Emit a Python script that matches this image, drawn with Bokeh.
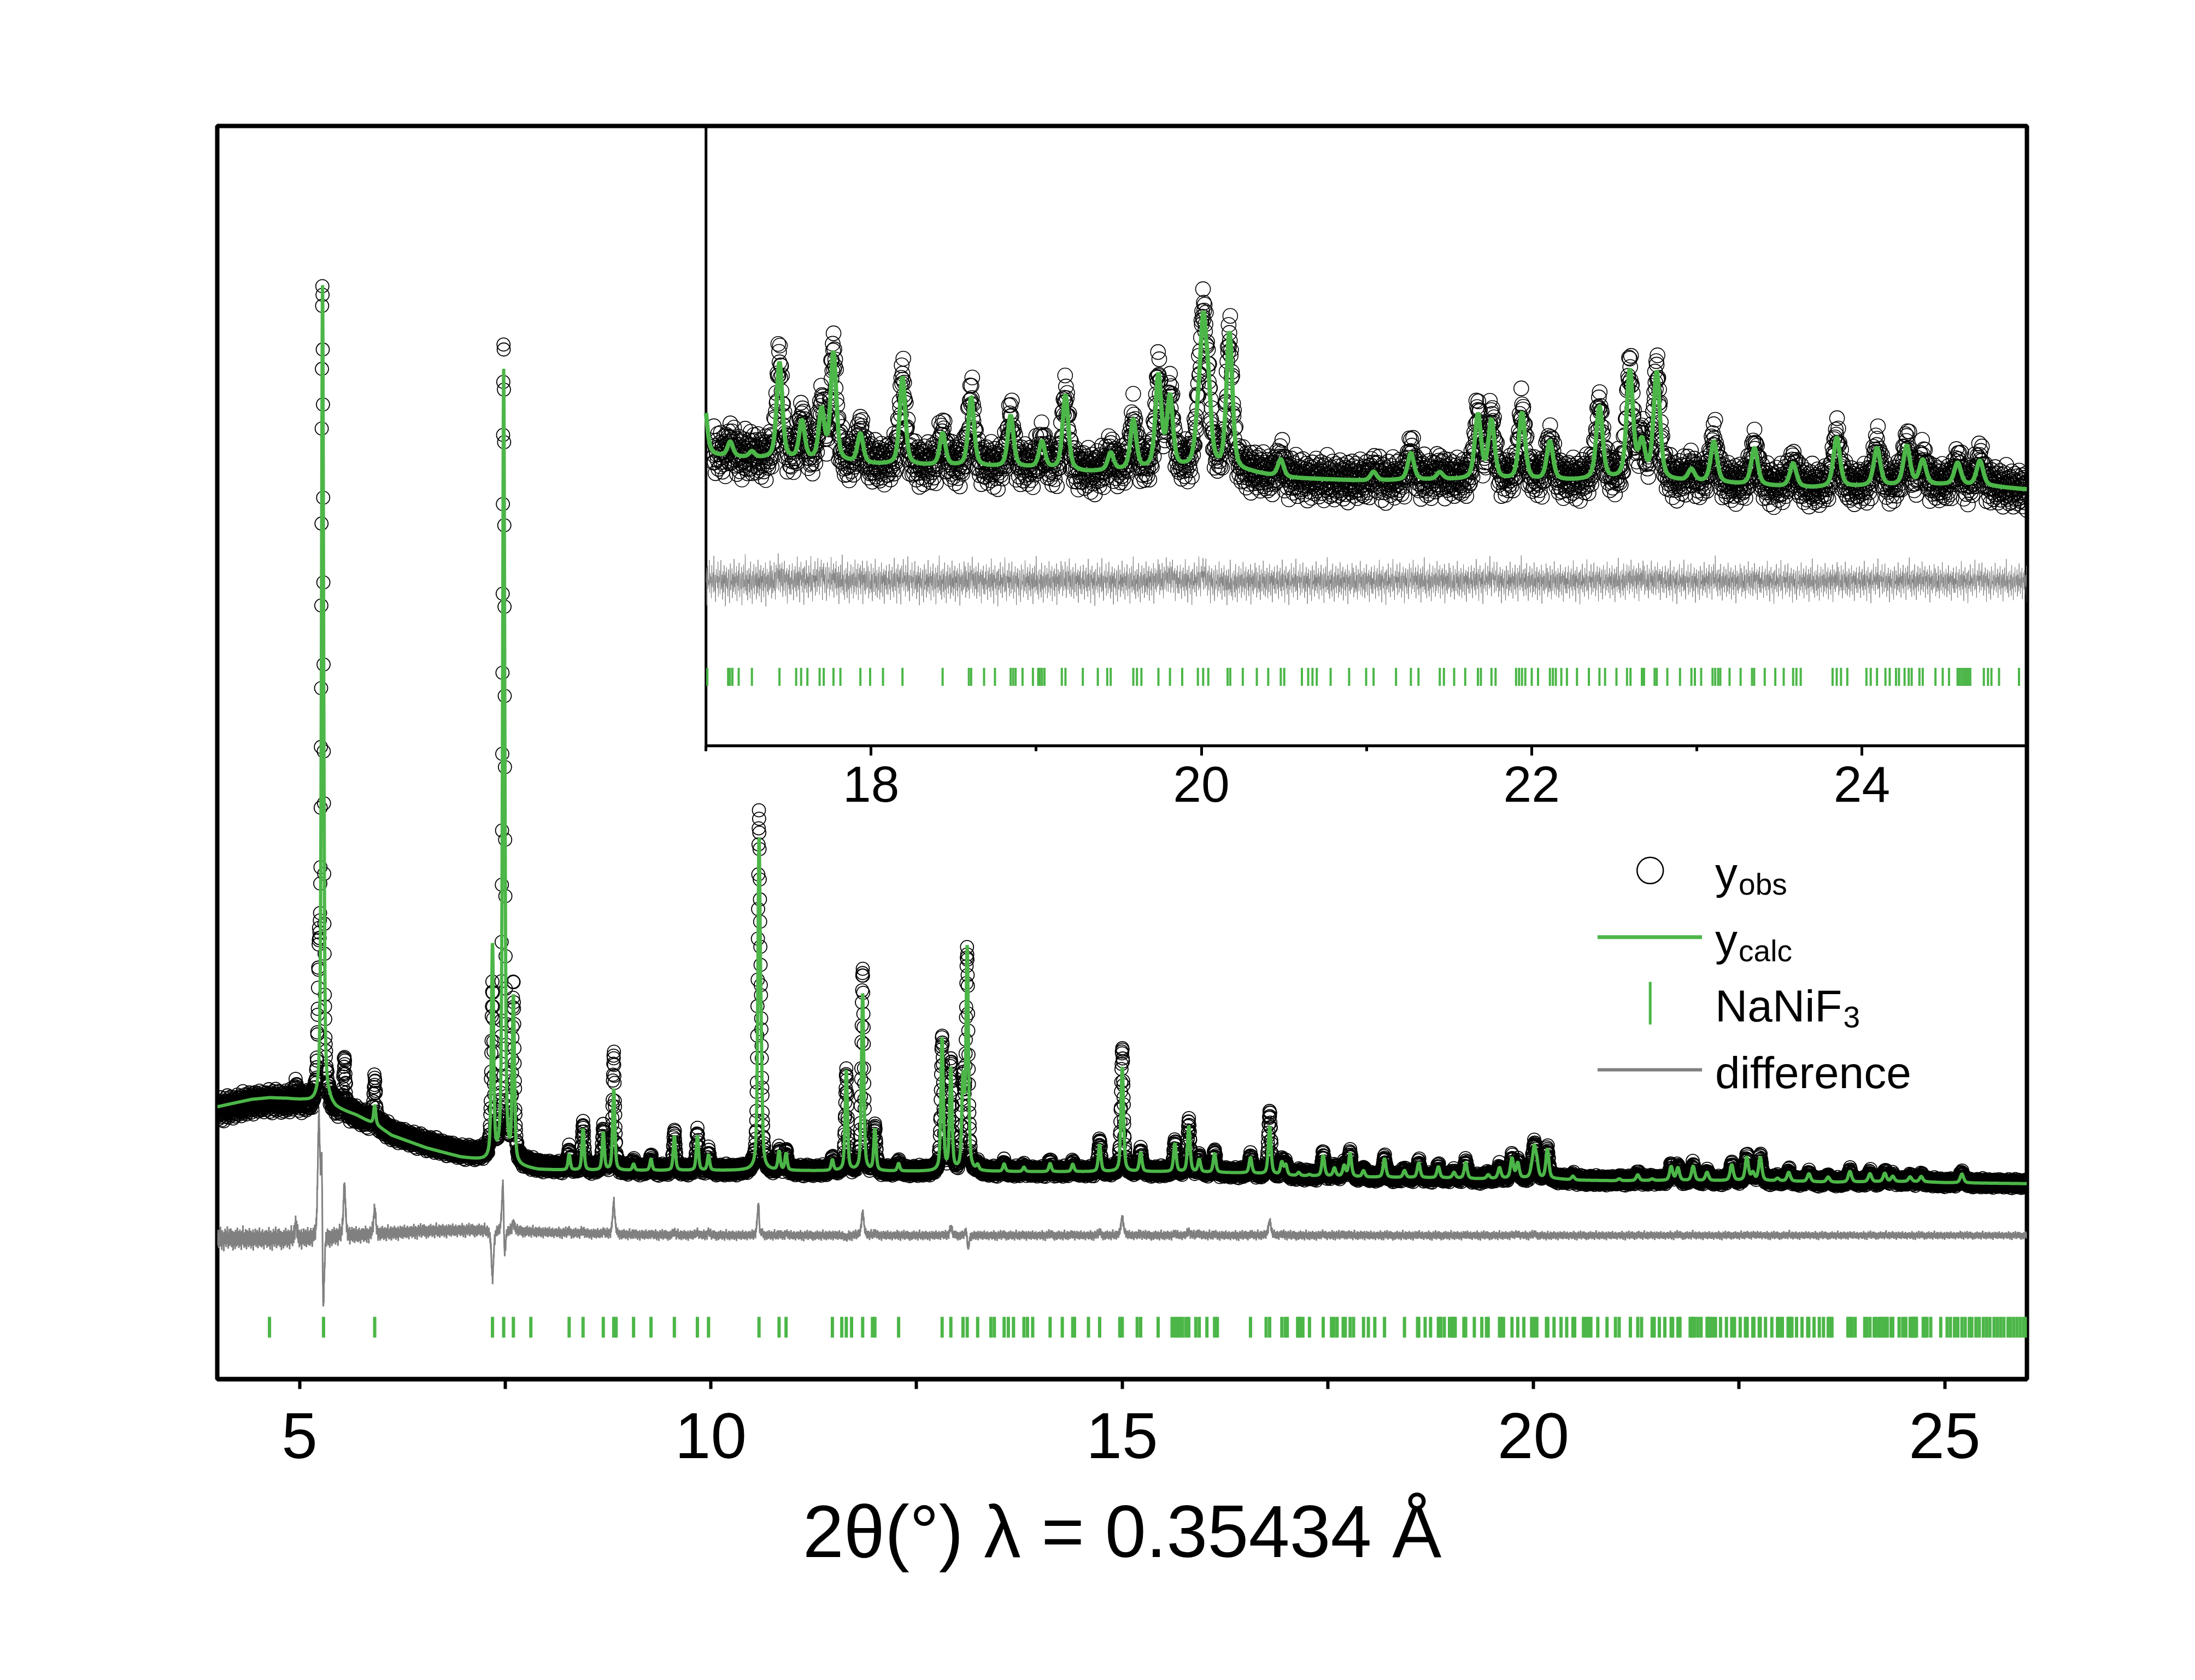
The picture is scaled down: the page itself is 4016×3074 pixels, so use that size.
import numpy as np
from bokeh.plotting import figure
from bokeh.models import Range1d, LinearAxis, FixedTicker, BoxAnnotation, Label
from bokeh.models import ColumnDataSource
from bokeh.embed import file_html
from bokeh.resources import INLINE

# ---------------------------------------------------------------- data
# NaNiF3 reflection positions (2theta, deg) read from the tick rows
refl_pos = [
    4.635, 5.292, 5.914, 7.346, 7.482, 7.600, 7.812, 8.278, 8.447, 8.693,
    8.820, 8.849, 9.061, 9.273, 9.557, 9.837, 9.972, 10.586, 10.830, 10.915,
    11.478, 11.592, 11.647, 11.711, 11.846, 11.965, 11.995, 12.283, 12.812, 12.918,
    13.066, 13.117, 13.244, 13.405, 13.447, 13.566, 13.617, 13.680, 13.807, 13.850,
    13.913, 14.125, 14.273, 14.400, 14.422, 14.591, 14.727, 14.972, 15.002, 15.184,
    15.226, 15.438, 15.608, 15.642, 15.671, 15.701, 15.735, 15.777, 15.811, 15.896,
    15.938, 16.031, 16.124, 16.158, 16.561, 16.751, 16.794, 16.942, 16.984, 17.008,
    17.134, 17.145, 17.160, 17.198, 17.278, 17.445, 17.546, 17.576, 17.614, 17.688,
    17.713, 17.772, 17.814, 17.935, 17.994, 18.072, 18.190, 18.433, 18.592, 18.606,
    18.684, 18.750, 18.845, 18.860, 18.875, 18.917, 18.980, 19.012, 19.022, 19.035,
    19.050, 19.155, 19.177, 19.282, 19.373, 19.430, 19.451, 19.588, 19.610, 19.637,
    19.740, 19.810, 19.884, 19.979, 20.011, 20.042, 20.159, 20.175, 20.251, 20.336,
    20.405, 20.481, 20.502, 20.609, 20.647, 20.673, 20.699, 20.783, 20.895, 20.998,
    21.043, 21.179, 21.269, 21.315, 21.444, 21.469, 21.531, 21.598, 21.675, 21.693,
    21.757, 21.782, 21.906, 21.924, 21.942, 21.962, 22.001, 22.039, 22.111, 22.129,
    22.147, 22.180, 22.214, 22.275, 22.347, 22.411, 22.445, 22.514, 22.578, 22.599,
    22.668, 22.681, 22.745, 22.758, 22.822, 22.899, 22.968, 22.989, 23.027, 23.096,
    23.112, 23.130, 23.143, 23.199, 23.266, 23.335, 23.348, 23.412, 23.476, 23.527,
    23.584, 23.604, 23.630, 23.823, 23.848, 23.874, 23.912, 24.028, 24.054, 24.092,
    24.143, 24.169, 24.207, 24.225, 24.259, 24.284, 24.302, 24.349, 24.369, 24.446,
    24.490, 24.528, 24.580, 24.592, 24.605, 24.618, 24.631, 24.644, 24.657, 24.739,
    24.764, 24.785, 24.831, 24.952, 25.030, 25.070, 25.120, 25.160, 25.210, 25.250,
    25.300, 25.330, 25.380, 25.420, 25.470, 25.510, 25.550, 25.600, 25.640, 25.680,
    25.720, 25.770, 25.800, 25.840, 25.880, 25.920, 25.960, 25.990,
]

# visible Bragg peaks: position, calculated and observed height above background
peak_pos = [
    5.280, 5.914, 7.346, 7.482, 7.600, 8.278, 8.447, 8.693, 8.820, 9.061,
    9.273, 9.557, 9.837, 9.972, 10.586, 10.612, 10.830, 10.915, 11.478, 11.647,
    11.846, 11.995, 12.283, 12.812, 12.918, 13.066, 13.117, 13.244, 13.566, 13.807,
    14.125, 14.400, 14.727, 15.002, 15.226, 15.642, 15.811, 15.938, 16.124, 16.561,
    16.794, 16.942, 16.990, 17.147, 17.278, 17.445, 17.581, 17.700, 17.772, 17.935,
    18.190, 18.433, 18.606, 18.845, 19.035, 19.177, 19.451, 19.588, 19.740, 19.810,
    19.979, 20.011, 20.042, 20.170, 20.481, 21.043, 21.269, 21.444, 21.675, 21.757,
    21.942, 22.111, 22.411, 22.595, 22.668, 22.758, 22.968, 23.104, 23.350, 23.584,
    23.848, 24.092, 24.272, 24.369, 24.580, 24.715, 25.210,
]
peak_calc = [
    6530, 150, 1710, 6330, 1310, 125, 330, 300, 650, 50,
    90, 275, 275, 125, 2500, 650, 150, 135, 85, 800,
    1415, 330, 60, 1055, 810, 700, 1765, 40, 60, 35,
    65, 60, 215, 835, 150, 225, 365, 100, 150, 125,
    380, 100, 80, 25, 10, 165, 65, 85, 185, 50,
    150, 55, 118, 88, 45, 128, 30, 85, 158, 120,
    60, 220, 110, 235, 30, 15, 46, 12, 110, 100,
    115, 66, 125, 185, 60, 184, 20, 70, 63, 40,
    85, 65, 67, 42, 38, 43, 70,
]
peak_obs = [
    6500, 350, 1320, 6480, 1380, 140, 350, 320, 905, 60,
    100, 300, 300, 150, 2680, 680, 160, 150, 90, 780,
    1605, 350, 65, 1060, 870, 700, 1720, 45, 65, 40,
    75, 70, 240, 980, 165, 240, 400, 120, 160, 135,
    490, 110, 85, 25, 10, 175, 70, 95, 190, 55,
    155, 55, 123, 88, 45, 133, 30, 85, 163, 130,
    60, 230, 110, 230, 30, 15, 50, 15, 112, 106,
    119, 66, 128, 190, 65, 188, 20, 75, 66, 40,
    88, 68, 70, 45, 38, 46, 75,
]
# small position offsets of some observed peaks
shift_pos = [5.280, 7.482, 10.586, 13.117]
shift_val = [-0.002, -0.001, -0.001, -0.001]

# peaks seen only in the observed pattern
extra_pos = [4.955, 5.235, 5.546]
extra_obs = [120, 950, 410]

# background knots (2theta, intensity)
bg_x = [4.00, 4.21, 4.42, 4.64, 4.85, 5.06, 5.20, 5.36, 5.44, 5.69,
        5.95, 6.12, 6.54, 6.96, 7.26, 7.69, 7.90, 8.50, 10.40, 12.50,
        14.00, 15.50, 16.50, 17.05, 17.60, 18.00, 18.50, 19.00, 19.30, 19.60,
        19.90, 20.30, 20.50, 21.00, 21.50, 22.00, 22.50, 22.90, 23.20, 23.50,
        23.70, 24.00, 24.50, 24.80, 25.00, 26.00]
bg_y = [2173, 2203, 2232, 2245, 2238, 2222, 2200, 2200, 2160, 2105,
        2020, 1945, 1845, 1770, 1740, 1690, 1670, 1665, 1665, 1658,
        1655, 1655, 1645, 1624, 1618, 1611, 1608, 1605, 1598, 1601,
        1603, 1597, 1588, 1583, 1585, 1583, 1584, 1582, 1578, 1573,
        1571, 1573, 1576, 1573, 1568, 1560]

# systematic observed-minus-calculated offset of the background
off_x = [4.0, 5.2, 5.6, 6.5, 7.3, 8.0, 9.0, 10.5, 26.0]
off_y = [-25, -25, -5, 35, 45, 25, 5, 0, 0]

# counting noise level
sig_x = [4.0, 5.2, 6.0, 7.3, 8.0, 10.5, 13.0, 17.0, 20.0, 26.0]
sig_y = [48, 45, 33, 28, 24, 22, 21, 21, 19, 17]

# normalised residual sequence (typical scatter of the difference curve)
resid_z = [
    0.31, -1.12, 0.84, -0.25, 1.47, -0.68, 0.12, -1.58, 0.93, 0.41,
    -0.52, 1.21, -0.87, 0.05, 0.63, -1.34, 1.98, -0.44, 0.72, -0.81,
    0.18, 1.03, -1.91, 0.55, -0.09, 1.38, -0.61, 0.27, -1.17, 0.79,
    -0.33, 0.91, -2.14, 0.46, 1.09, -0.73, 0.02, -0.39, 1.66, -1.01,
    0.58, -0.21, 0.34, -1.42, 1.27, -0.48, 0.11, 0.69, -0.94, 2.06,
    -0.29, -0.83, 0.51, -1.69, 0.22, 0.97, -0.13, 0.43, -0.57, 1.59,
    -1.26, 0.37, -0.06, 0.88, -1.03, 0.15, 1.72, -0.66, -0.31, 0.54,
    -1.48, 0.81, 0.08, -0.92, 1.31, -0.17, 0.49, -2.03, 0.76, -0.42,
    1.14, -0.59, 0.26, -1.22, 0.64, 0.99, -0.37, -1.77, 0.33, 1.46,
    -0.71, 0.04, -0.26, 1.05, -1.36, 0.61, 0.19, -0.85, 1.83, -0.47,
    0.39, -1.08, 0.71, -0.14, 1.24, -1.61, 0.47, -0.35, 0.86, -0.78,
    1.52, -0.23, -1.29, 0.66, 0.09, -0.64, 1.18, -1.95, 0.28, 0.74,
    -0.51, 1.36, -0.98, 0.13, -0.43, 2.21, -0.76, 0.52, -1.13, 0.35,
    0.92, -1.55, 0.17, -0.18, 1.07, -0.88, 0.62, -1.39, 1.62, -0.27,
    -0.69, 0.45, -1.84, 0.83, 0.23, -0.54, 1.41, -1.06, 0.07, 0.57,
    -0.36, 1.19, -1.47, 0.68, -0.02, -0.97, 1.77, -0.45, 0.29, -1.21,
    0.94, -0.62, 0.16, 1.33, -1.73, 0.42, -0.11, 0.87, -0.79, 1.11,
    -1.31, 0.24, 0.65, -0.49, 1.55, -2.07, 0.38, -0.24, 1.02, -0.86,
    0.53, -1.15, 0.78, 0.14, -0.72, 1.69, -0.55, -0.38, 1.26, -1.44,
    0.32, 0.85, -1.02, 0.06, -0.63, 1.48, -0.91, 0.59, -1.66, 0.21,
    1.13, -0.34, -0.89, 0.73, -0.16, 1.89, -1.19, 0.44, -0.53, 0.96,
    -1.37, 0.12, 0.67, -0.74, 1.23, -0.41, -1.52, 0.82, 0.36, -0.95,
    1.58, -0.22, 0.48, -1.27, 0.75, -0.07, 1.04, -1.88, 0.56, -0.32,
    0.89, -0.67, 1.35, -1.09, 0.25,
]

# peak width (FWHM, deg) knots and Lorentz fraction
fwhm_x = [4.0, 12.0, 26.0]
fwhm_y = [0.030, 0.034, 0.050]
ETA = 0.5

x_ticks_main = [5, 10, 15, 20, 25]
x_minor_main = [7.5, 12.5, 17.5, 22.5]
x_ticks_inset = [18, 20, 22, 24]
x_minor_inset = [17, 19, 21, 23, 25]

legend_labels = [("y", "obs"), ("y", "calc"), ("NaNiF", "3"), ("difference", "")]

# ---------------------------------------------------------------- build pattern
STEP = 0.0025
tt = np.round(np.arange(4.0, 26.0 + STEP / 2, STEP), 5)


def profile(x, pos, hts, shifts=None):
    out = np.zeros_like(x)
    for k, (p0, h) in enumerate(zip(pos, hts)):
        if shifts is not None:
            p0 = p0 + shifts[k]
        w = np.interp(p0, fwhm_x, fwhm_y)
        d = (x - p0) / w
        m = np.abs(d) < 60
        dd = d[m] ** 2
        out[m] += h * (ETA / (1 + 4 * dd) + (1 - ETA) * np.exp(-4 * np.log(2) * dd))
    return out


obs_shift = [shift_val[shift_pos.index(p0)] if p0 in shift_pos else 0.0 for p0 in peak_pos]
bg = np.interp(tt, bg_x, bg_y)
calc = bg + profile(tt, peak_pos, peak_calc)
noise = np.array(resid_z)[np.arange(tt.size) % len(resid_z)] * np.interp(tt, sig_x, sig_y)
obs = (bg + np.interp(tt, off_x, off_y) + profile(tt, peak_pos, peak_obs, obs_shift)
       + profile(tt, extra_pos, extra_obs) + noise)
diff = obs - calc

# ---------------------------------------------------------------- styling constants
GREEN = "#4cb648"
GREY = "#808080"
FONT = "Liberation Sans"
DIFF_MAIN = 1147
TICK_MAIN = 414
DIFF_INSET = 1411
TICK_INSET = 1248
INSET_X = (14.040, 25.0)
INSET_Y = (47.0, 2190.0)
INSET_X0 = 17.0
INSET_Y0 = 1130.0

p = figure(frame_width=3311, frame_height=2293,
           x_range=Range1d(4, 26), y_range=Range1d(0, 10000),
           output_backend="svg", toolbar_location=None, y_axis_location=None,
           min_border_left=397, min_border_right=296, min_border_top=230,
           min_border_bottom=540)
p.extra_x_ranges = {"inset": Range1d(*INSET_X)}
p.extra_y_ranges = {"inset": Range1d(*INSET_Y)}
p.xgrid.visible = False
p.ygrid.visible = False
p.outline_line_color = "black"
p.outline_line_width = 8
p.outline_line_alpha = 1.0
p.background_fill_color = "white"
p.border_fill_color = "white"

ax = p.xaxis[0]
ax.ticker = FixedTicker(ticks=x_ticks_main, minor_ticks=x_minor_main)
ax.axis_line_color = "black"
ax.axis_line_width = 8
ax.major_tick_line_color = "black"
ax.minor_tick_line_color = "black"
ax.major_tick_in = 0
ax.minor_tick_in = 0
ax.major_tick_out = 18
ax.minor_tick_out = 18
ax.major_tick_line_width = 6
ax.minor_tick_line_width = 6
ax.major_label_text_font = FONT
ax.major_label_text_font_size = "118px"
ax.major_label_text_color = "black"
ax.major_label_standoff = 44
ax.axis_label = "2θ(°) λ = 0.35434 Å"
ax.axis_label_text_font = FONT
ax.axis_label_text_font_size = "135px"
ax.axis_label_text_font_style = "normal"
ax.axis_label_text_color = "black"
ax.axis_label_standoff = 56

# ---- main pattern
src = ColumnDataSource(dict(x=tt, obs=obs, calc=calc, dp=diff + DIFF_MAIN))
p.scatter("x", "obs", source=src, marker="circle", size=24, fill_color=None,
          line_color="black", line_width=1.8)
p.line("x", "dp", source=src, line_color=GREY, line_width=3)
p.line("x", "calc", source=src, line_color=GREEN, line_width=6)
p.scatter(x=refl_pos, y=[TICK_MAIN] * len(refl_pos), marker="dash", angle=np.pi / 2,
          size=38, line_color=GREEN, line_width=6)

# ---- inset (same data, magnified)
box = BoxAnnotation(left=INSET_X0, bottom=INSET_Y0, x_range_name="inset", y_range_name="inset",
                    fill_alpha=0, line_color="black", line_alpha=1.0, line_width=5,
                    level="underlay")
p.add_layout(box)

m = (tt >= INSET_X0 + 0.045) & (tt <= 25.0)
mc = (tt >= INSET_X0) & (tt <= 25.0)
src_o = ColumnDataSource(dict(x=tt[m], obs=obs[m]))
src_c = ColumnDataSource(dict(x=tt[mc], calc=calc[mc], dp=diff[mc] + DIFF_INSET))
p.scatter("x", "obs", source=src_o, marker="circle", size=27, fill_color=None,
          line_color="black", line_width=1.6, x_range_name="inset", y_range_name="inset")
p.line("x", "calc", source=src_c, line_color=GREEN, line_width=8,
       x_range_name="inset", y_range_name="inset")
p.line("x", "dp", source=src_c, line_color=GREY, line_width=1,
       x_range_name="inset", y_range_name="inset")
r_in = [r for r in refl_pos if INSET_X0 <= r <= 25.0]
p.scatter(x=r_in, y=[TICK_INSET] * len(r_in), marker="dash", angle=np.pi / 2, size=33,
          line_color=GREEN, line_width=4, x_range_name="inset", y_range_name="inset")

iax = LinearAxis(x_range_name="inset", y_range_name="inset", fixed_location=INSET_Y0,
                 bounds=(INSET_X0, 25.0),
                 ticker=FixedTicker(ticks=x_ticks_inset, minor_ticks=x_minor_inset))
iax.axis_line_color = "black"
iax.axis_line_width = 5
iax.major_tick_line_color = "black"
iax.minor_tick_line_color = "black"
iax.major_tick_in = 0
iax.minor_tick_in = 0
iax.major_tick_out = 18
iax.minor_tick_out = 10
iax.major_tick_line_width = 5
iax.minor_tick_line_width = 5
iax.major_label_text_font = FONT
iax.major_label_text_font_size = "93px"
iax.major_label_text_color = "black"
iax.major_label_standoff = 20
p.add_layout(iax, "below")

# ---- legend (custom, to allow subscripts)
LEG_SYM_X = 21.42
LEG_LINE = (20.78, 22.05)
LEG_TEXT_X = 22.21
LEG_ROWS = [4059, 3527, 3000, 2468]
TEXT_DY = -20

p.scatter(x=[LEG_SYM_X], y=[LEG_ROWS[0]], marker="circle", size=48,
          fill_color=None, line_color="black", line_width=2.5)
p.line(x=list(LEG_LINE), y=[LEG_ROWS[1]] * 2, line_color=GREEN, line_width=7)
p.scatter(x=[LEG_SYM_X], y=[LEG_ROWS[2]], marker="dash", angle=np.pi / 2, size=78,
          line_color=GREEN, line_width=5)
p.line(x=list(LEG_LINE), y=[LEG_ROWS[3]] * 2, line_color=GREY, line_width=6)

MAIN_PX = 82
SUB_PX = 55
char_w = {"y": 0.5, "NaNiF": 2.833}
for (main_txt, sub_txt), yrow in zip(legend_labels, LEG_ROWS):
    p.add_layout(Label(x=LEG_TEXT_X, y=yrow + TEXT_DY, text=main_txt, text_font=FONT,
                       text_font_size=f"{MAIN_PX}px", text_baseline="alphabetic",
                       text_align="left", text_color="black"))
    if sub_txt:
        p.add_layout(Label(x=LEG_TEXT_X, y=yrow + TEXT_DY, x_offset=char_w[main_txt] * MAIN_PX + 2,
                           y_offset=-21, text=sub_txt, text_font=FONT,
                           text_font_size=f"{SUB_PX}px", text_baseline="alphabetic",
                           text_align="left", text_color="black"))

open("out.html", "w", encoding="utf-8").write(file_html(p, INLINE, title="NaNiF3 refinement"))
